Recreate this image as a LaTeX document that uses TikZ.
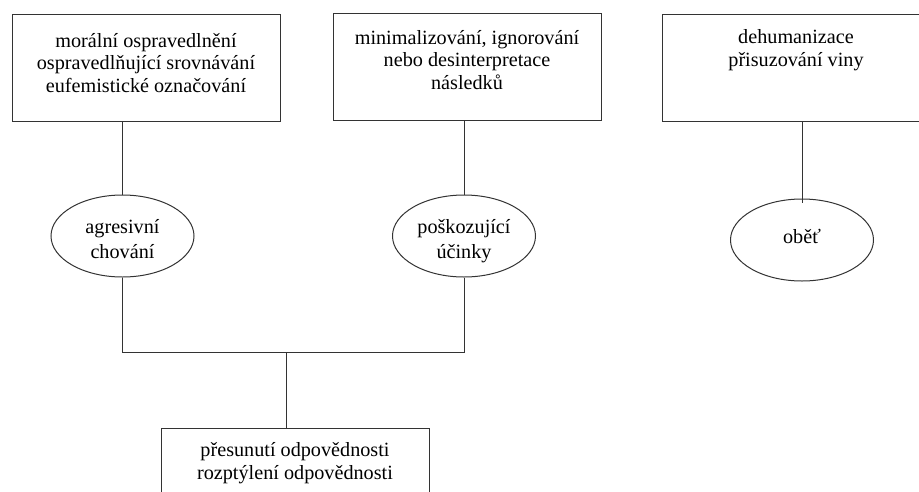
\documentclass[tikz,border=0pt]{standalone}
\usepackage{fontspec}
\setmainfont{LiberationSerif}[Extension=.ttf, UprightFont=*-Regular, BoldFont=*-Bold]
\usetikzlibrary{shapes.geometric}
\begin{document}
\begin{tikzpicture}[x=1pt,y=-1pt,
  box/.style={draw=black!80, line width=1pt, minimum width=268pt, minimum height=107pt, inner sep=0pt},
  txt/.style={align=center, inner sep=0pt, anchor=base, font=\fontsize{20.2}{22.5}\selectfont},
  etxt/.style={align=center, inner sep=0pt, anchor=base, font=\fontsize{20.2}{25}\selectfont},
  oval/.style={draw=black!80, line width=1pt, ellipse, minimum width=143pt, minimum height=82pt, inner sep=0pt},
  conn/.style={draw=black!80, line width=1pt}]
\clip (0,0) rectangle (919,491);
% boxes
\node[box] (b1) at (146,67.5) {};
\node[txt] (t1) at (146,92) {morální ospravedlnění\\ospravedlňující srovnávání\\eufemistické označování};
\node[box] (b2) at (467,67) {};
\node[txt] (t2) at (467,89) {minimalizování, ignorování\\nebo desinterpretace\\následků};
\node[box] (b3) at (796,67.5) {};
\node[txt] (t3) at (796,66) {dehumanizace\\přisuzování viny};
\node[box] (b4) at (295,481.5) {};
\node[txt] (t4) at (295,479) {přesunutí odpovědnosti\\rozptýlení odpovědnosti};
% ellipses
\node[oval] (e1) at (122.5,236) {};
\node[etxt] (et1) at (122.5,258) {agresivní\\chování};
\node[oval] (e2) at (464,236) {};
\node[etxt] (et2) at (464,258) {poškozující\\účinky};
\node[oval] (e3) at (802,240) {};
\node[etxt] (et3) at (802,243) {oběť};
% connectors
\coordinate (j) at (286,352.5);
\draw[conn] (e1.north) -- (e1.north |- b1.south);
\draw[conn] (e2.north) -- (e2.north |- b2.south);
\draw[conn] ([yshift=-4pt]e3.north) -- (e3.north |- b3.south);
\draw[conn] (e1.south) |- (j) -| (e2.south);
\draw[conn] (j) -- (j |- b4.north);
\end{tikzpicture}
\end{document}
